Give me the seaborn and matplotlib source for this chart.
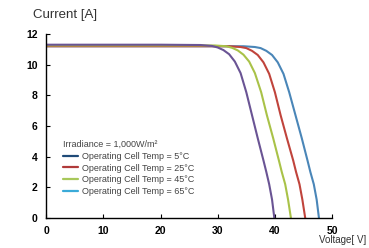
import numpy as np
import pandas as pd
import matplotlib
matplotlib.use('Agg')
import matplotlib.pyplot as plt
import seaborn as sns
from matplotlib.lines import Line2D

# Значения
temps = ['5°C', '25°C', '45°C', '65°C']

v_5 = [0, 10, 20, 30, 34.5, 36.5, 37.5, 38.5, 39.5, 40.5, 41.5, 42.5, 43.6, 44.7, 45.7, 46.2, 46.8, 47.3, 47.7]
i_5 = [11.2, 11.2, 11.2, 11.2, 11.2, 11.15, 11.08, 10.9, 10.63, 10.15, 9.4, 8.2, 6.7, 5.2, 3.75, 3.0, 2.2, 1.2, 0.0]

v_25 = [0, 10, 20, 30, 32, 34, 35, 36, 37, 38, 39, 40, 41, 42.1, 43.2, 43.7, 44.3, 44.8, 45.3]
i_25 = [11.2, 11.2, 11.2, 11.2, 11.2, 11.15, 11.08, 10.9, 10.63, 10.15, 9.4, 8.2, 6.7, 5.2, 3.75, 3.0, 2.2, 1.2, 0.0]

v_45 = [0, 10, 20, 29.5, 31.5, 32.5, 33.5, 34.5, 35.5, 36.5, 37.6, 38.6, 39.7, 40.7, 41.2, 41.8, 42.3, 42.8]
i_45 = [11.25, 11.25, 11.25, 11.25, 11.2, 11.1, 10.93, 10.65, 10.2, 9.45, 8.2, 6.7, 5.2, 3.75, 3.0, 2.2, 1.2, 0.0]

v_65 = [0, 10, 20, 27, 29, 30, 31, 32, 33, 34, 35, 36, 37, 38, 38.5, 39, 39.5, 39.9]
i_65 = [11.3, 11.3, 11.3, 11.28, 11.22, 11.12, 10.95, 10.68, 10.2, 9.45, 8.2, 6.7, 5.2, 3.75, 3.0, 2.2, 1.2, 0.0]

line_colors = ['#4a86b8', '#c0443c', '#a9c248', '#6a5494']
legend_colors = ['#1f4a78', '#b03a3a', '#a8c85a', '#3aaad8']

df = pd.concat([
    pd.DataFrame({'V': v, 'I': i, 'T': t})
    for v, i, t in zip([v_5, v_25, v_45, v_65], [i_5, i_25, i_45, i_65], temps)
])

sns.set_style('white')
plt.rcParams['font.family'] = ['Liberation Sans Narrow', 'Liberation Sans', 'DejaVu Sans']

fig = plt.figure(figsize=(3.69, 2.48), dpi=100)
ax = fig.add_axes([0.125, 0.121, 0.775, 0.742])

sns.lineplot(data=df, x='V', y='I', hue='T', palette=dict(zip(temps, line_colors)),
             sort=False, estimator=None, linewidth=1.5, legend=False, ax=ax)

ax.set_xlim(0, 50)
ax.set_ylim(0, 12)
ax.set_xticks([0, 10, 20, 30, 40, 50])
ax.set_yticks([0, 2, 4, 6, 8, 10, 12])
ax.set_xlabel('')
ax.set_ylabel('')
for s in ['top', 'right']:
    ax.spines[s].set_visible(False)
for s in ['left', 'bottom']:
    ax.spines[s].set_color('black')
    ax.spines[s].set_linewidth(1.0)
ax.tick_params(direction='in', length=3, width=0.8, colors='black',
               labelsize=7.5, pad=6, bottom=True, left=True)
for lbl in ax.get_xticklabels() + ax.get_yticklabels():
    lbl.set_fontweight('bold')

handles = [Line2D([], [], color=c, lw=1.6) for c in legend_colors]
labels = ['Operating Cell Temp = ' + t for t in temps]
leg = ax.legend(handles, labels, title='Irradiance = 1,000W/m²',
                loc='lower left', bbox_to_anchor=(0.045, 0.1), frameon=False,
                fontsize=6.5, title_fontsize=6.5, handlelength=1.7,
                handletextpad=0.4, labelspacing=0.3, borderaxespad=0)
leg._legend_box.align = 'left'
for t in leg.get_texts():
    t.set_color('#444444')
leg.get_title().set_color('#444444')

fig.text(33 / 369, 1 - 15 / 248, 'Current [A]', fontsize=9.5, color='#333333',
         va='center', ha='left')
fig.text(366 / 369, 1 - 240 / 248, 'Voltage[ V]', fontsize=7, color='#333333',
         va='center', ha='right')

fig.savefig('out.png', dpi=100)
